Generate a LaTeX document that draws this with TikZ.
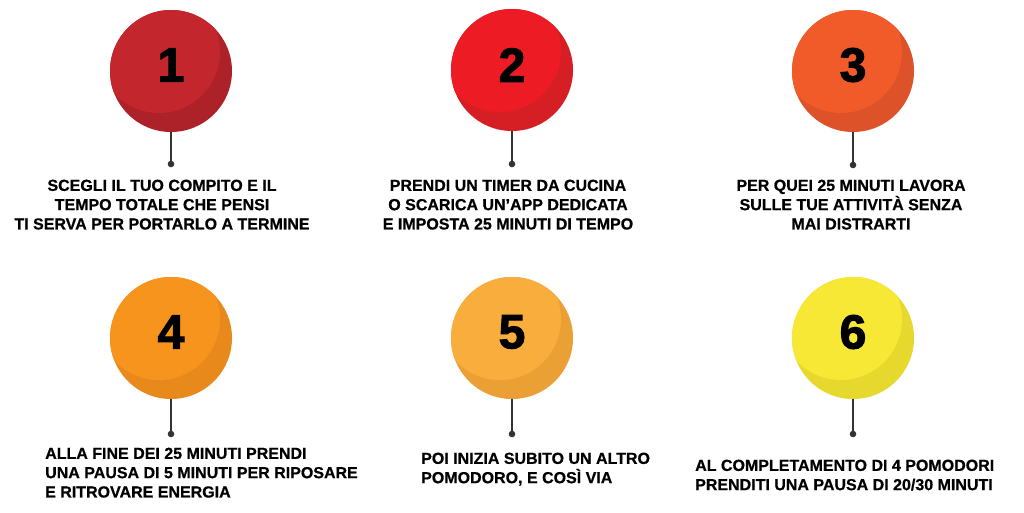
\documentclass[tikz,border=0pt]{standalone}
\usepackage{fontspec}
\setmainfont{Liberation Sans}
\newfontfamily\numfont[FakeBold=2.2]{Liberation Sans Bold}
\newfontfamily\labfont[FakeBold=0.7]{Liberation Sans Bold}
\definecolor{cA}{HTML}{C4262E}\definecolor{dA}{HTML}{AD2229}
\definecolor{cB}{HTML}{ED1C24}\definecolor{dB}{HTML}{D61E25}
\definecolor{cC}{HTML}{F15A29}\definecolor{dC}{HTML}{DD5228}
\definecolor{cD}{HTML}{F7941D}\definecolor{dD}{HTML}{E8891C}
\definecolor{cE}{HTML}{F8AD3C}\definecolor{dE}{HTML}{EBA036}
\definecolor{cF}{HTML}{F6E834}\definecolor{dF}{HTML}{E6D82D}
\definecolor{stem}{HTML}{333333}
\tikzset{
  ball/.style n args={2}{circle, minimum size=122pt, inner sep=0pt, fill=#2,
    path picture={\fill[#1] ([shift={(-12pt,19pt)}]path picture bounding box.center) circle (61pt);}},
  digit/.style={font=\numfont\fontsize{48}{48}\selectfont, text=black, inner sep=0pt},
  stemline/.style={draw=stem, line width=1.4pt},
  dot/.style={fill=stem},
  label/.style={font=\labfont\fontsize{16}{19.3}\selectfont, inner sep=0pt, text=black},
}
\begin{document}
\begin{tikzpicture}[x=1pt,y=-1pt]
\useasboundingbox[fill=white] (0,0) rectangle (1024,512);
% balls
\node[ball={cA}{dA}] (c1) at (171,71) {};
\node[ball={cB}{dB}] (c2) at (512,70) {};
\node[ball={cC}{dC}] (c3) at (853,71) {};
\node[ball={cD}{dD}] (c4) at (171,338) {};
\node[ball={cE}{dE}] (c5) at (512,338) {};
\node[ball={cF}{dF}] (c6) at (853,338) {};
% digits
\node[digit] (n1) at (171,65) {1};
\node[digit] (n2) at (512,65) {2};
\node[digit] (n3) at (853,65) {3};
\node[digit] (n4) at (171,332) {4};
\node[digit] (n5) at (512,332) {5};
\node[digit] (n6) at (853,332) {6};
% dots
\coordinate (d1) at (171,164);
\coordinate (d2) at (512,164);
\coordinate (d3) at (853,165);
\coordinate (d4) at (171,434);
\coordinate (d5) at (512,434);
\coordinate (d6) at (853,434);
\foreach \i in {1,...,6}{
  \draw[stemline] (c\i.south) -- (d\i);
  \fill[dot] (d\i) circle (3.3pt);
}
% labels
\node[label, align=center, anchor=north] (t1) at (162,179.5) {SCEGLI IL TUO COMPITO E IL\\TEMPO TOTALE CHE PENSI\\TI SERVA PER PORTARLO A TERMINE};
\node[label, align=center, anchor=north] (t2) at (508,179.5) {PRENDI UN TIMER DA CUCINA\\O SCARICA UN’APP DEDICATA\\E IMPOSTA 25 MINUTI DI TEMPO};
\node[label, align=center, anchor=north] (t3) at (851,179.5) {PER QUEI 25 MINUTI LAVORA\\SULLE TUE ATTIVITÀ SENZA\\MAI DISTRARTI};
\node[label, align=left, anchor=north west] (t4) at (45,447.5) {ALLA FINE DEI 25 MINUTI PRENDI\\UNA PAUSA DI 5 MINUTI PER RIPOSARE\\E RITROVARE ENERGIA};
\node[label, align=left, anchor=north west] (t5) at (421,452.5) {POI INIZIA SUBITO UN ALTRO\\POMODORO, E COSÌ VIA};
\node[label, align=left, anchor=north west] (t6) at (695,459.5) {AL COMPLETAMENTO DI 4 POMODORI\\PRENDITI UNA PAUSA DI 20/30 MINUTI};
\end{tikzpicture}
\end{document}
